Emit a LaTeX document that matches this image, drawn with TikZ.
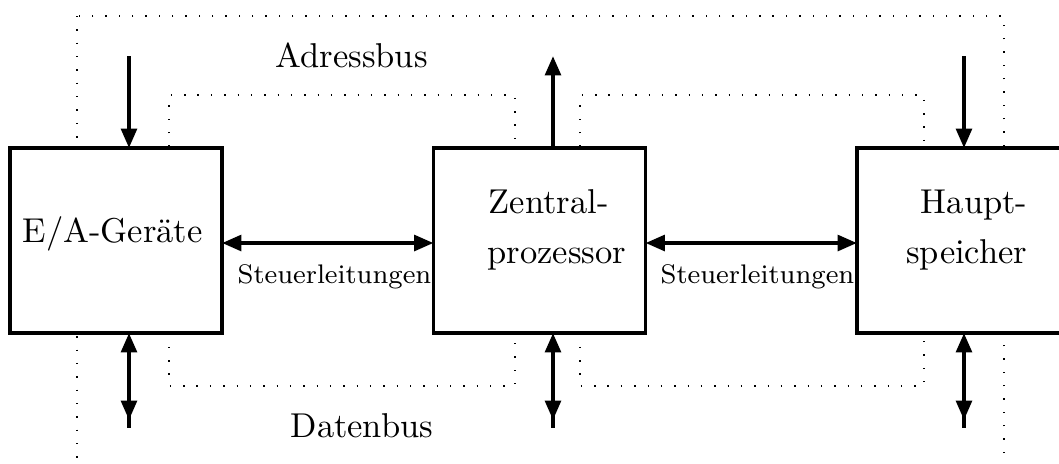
\documentclass[tikz,border=0pt]{standalone}
\usetikzlibrary{arrows.meta}
\begin{document}
\begin{tikzpicture}[x=0.29pt,y=-0.29pt,
  box/.style={draw,line width=0.9pt,fill=white,minimum width=61.48pt,minimum height=53.65pt,inner sep=0pt,outer sep=0pt},
  bus/.style={line width=1.15pt},
  tri/.tip={Triangle[length=5.6pt,width=4.5pt]},
  dots/.style={line width=0.4pt,dash pattern=on 0.4pt off 3.47pt},
  lbl/.style={inner sep=0pt,font=\fontsize{10}{12}\selectfont},
  small/.style={inner sep=0pt,font=\fontsize{7.8}{9}\selectfont}]
\clip (0,0) rectangle (1059,463);
% dotted bus outlines
\draw[dots] (77,16) rectangle (1004,465);
\draw[dots] (169,240) -- (169,95) -- (515,95) -- (515,240);
\draw[dots] (580,240) -- (580,95) -- (924,95) -- (924,240);
\draw[dots] (169,240) -- (169,386) -- (515,386) -- (515,240);
\draw[dots] (580,240) -- (580,386) -- (924,386) -- (924,240);
% boxes
\node[box] (b1) at (116,240.5) {};
\node[box] (b2) at (539.5,240.5) {};
\node[box] (b3) at (963,240.5) {};
% coordinates
\coordinate (t1) at (129,56);
\coordinate (t2) at (553,56);
\coordinate (t3) at (964,56);
\coordinate (d1) at (129,420);
\coordinate (d2) at (553,420);
\coordinate (d3) at (964,420);
\coordinate (m1) at (129,410);
\coordinate (m2) at (553,410);
\coordinate (m3) at (964,410);
\coordinate (e1) at (129,428);
\coordinate (e2) at (553,428);
\coordinate (e3) at (964,428);
\coordinate (h) at (0,243);
% address bus arrows
\draw[bus,-{tri}] (t1) -- (t1 |- b1.north);
\draw[bus,-{tri}] (t2 |- b2.north) -- (t2);
\draw[bus,-{tri}] (t3) -- (t3 |- b3.north);
% data bus arrows
\draw[bus,{tri}-{tri}] (d1 |- b1.south) -- (d1);
\draw[bus] (m1) -- (e1);
\draw[bus,{tri}-{tri}] (d2 |- b2.south) -- (d2);
\draw[bus] (m2) -- (e2);
\draw[bus,{tri}-{tri}] (d3 |- b3.south) -- (d3);
\draw[bus] (m3) -- (e3);
% control lines
\draw[bus,{tri}-{tri}] (b1.east |- h) -- (b2.west |- h);
\draw[bus,{tri}-{tri}] (b2.east |- h) -- (b3.west |- h);
% texts
\node[lbl,anchor=base west] (l1) at (22,242) {E/A-Geräte};
\node[lbl,anchor=base west] (l2a) at (488,213) {Zentral-};
\node[lbl,anchor=base west] (l2b) at (487,263) {prozessor};
\node[lbl,anchor=base east] (l3a) at (1028,213) {Haupt-};
\node[lbl,anchor=base east] (l3b) at (1028,263) {speicher};
\node[lbl,anchor=base west] (ab) at (275,67) {Adressbus};
\node[lbl,anchor=base west] (db) at (290,437) {Datenbus};
\node[small,anchor=base west] (s1) at (237,283) {Steuerleitungen};
\node[small,anchor=base west] (s2) at (660,283) {Steuerleitungen};
\end{tikzpicture}
\end{document}
